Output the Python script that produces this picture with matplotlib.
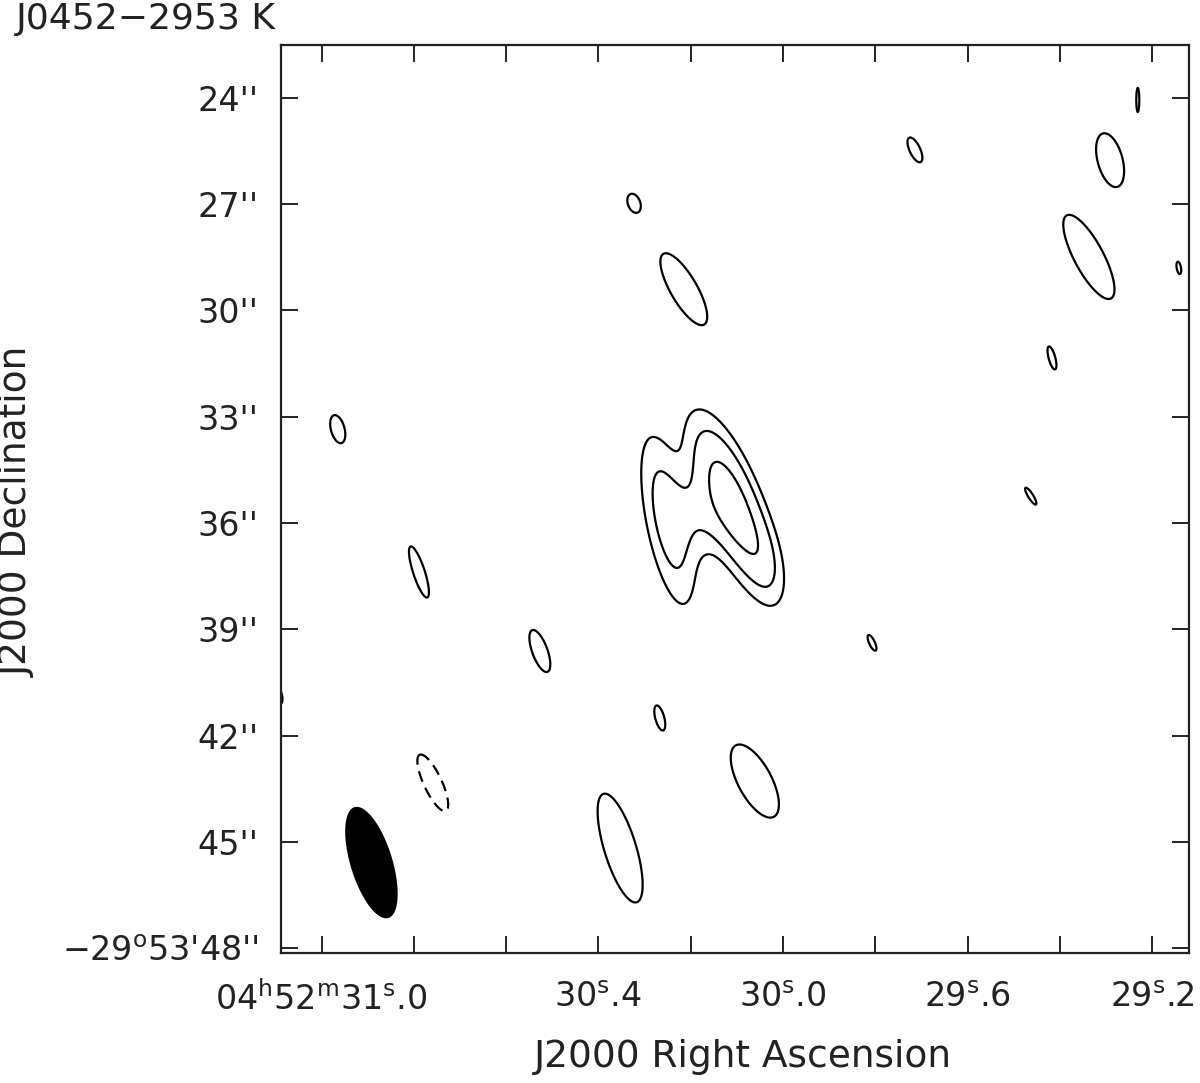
import numpy as np
import matplotlib
matplotlib.use("Agg")
import matplotlib.pyplot as plt

plt.rcParams['font.family'] = ['DejaVu Sans']
plt.rcParams['mathtext.default'] = 'regular'

title = "J0452\u22122953 K"
x_label = "J2000 Right Ascension"
y_label = "J2000 Declination"

# contour levels (arbitrary flux units)
levels_pos = [3, 6, 12]
levels_neg = [-3]

# emission components: RA seconds past 04h52m, Dec arcsec past -29d53',
# peak, FWHM major ("), FWHM minor ("), position angle (deg E of N)
comp_ra   = [29.714, 29.291, 29.337, 29.142, 30.323, 30.215, 29.417, 30.965,
             29.463, 30.789, 30.527, 29.807, 30.267, 30.061, 30.353, 30.759,
             31.094, 29.231,
             30.111, 30.250, 30.186, 30.040]
comp_dec  = [25.47, 25.76, 28.49, 28.80, 26.97, 29.40, 31.34, 33.35,
             35.24, 37.38, 39.61, 39.38, 41.50, 43.28, 45.17, 43.33,
             40.85, 24.06,
             35.45, 35.94, 35.74, 37.05]
comp_peak = [5.5, 5.5, 5.5, 5.5, 5.5, 5.5, 5.5, 5.5,
             5.5, 5.5, 5.5, 5.5, 5.5, 5.5, 5.5, -5.5,
             5.5, 5.5,
             16.5, 8.0, 4.5, 3.0]
comp_maj  = [0.81, 1.67, 2.84, 0.38, 0.57, 2.46, 0.72, 0.87,
             0.60, 1.62, 1.34, 0.52, 0.78, 2.44, 3.42, 1.87,
             0.55, 0.73,
             3.60, 4.00, 2.00, 2.00]
comp_min  = [0.32, 0.75, 0.88, 0.13, 0.36, 0.80, 0.20, 0.41,
             0.15, 0.35, 0.46, 0.17, 0.27, 1.01, 0.96, 0.54,
             0.22, 0.09,
             1.12, 1.00, 1.10, 0.80]
comp_pa   = [25, 15, 28, 10, 20, 30, 15, 15,
             32, 18, 20, 25, 15, 28, 17, 25,
             15, 0,
             21, 11, 15, 15]

# restoring beam
beam_ra, beam_dec = 30.892, 45.58
beam_maj, beam_min, beam_pa = 3.27, 1.18, 17

ra_ticks = [31.0, 30.8, 30.6, 30.4, 30.2, 30.0, 29.8, 29.6, 29.4, 29.2]
ra_labels = [r"04$^{\rm h}$52$^{\rm m}$31$^{\rm s}$.0", "", "",
             r"30$^{\rm s}$.4", "", r"30$^{\rm s}$.0", "",
             r"29$^{\rm s}$.6", "", r"29$^{\rm s}$.2"]
dec_ticks = [24, 27, 30, 33, 36, 39, 42, 45, 48]
dec_labels = ["24''", "27''", "30''", "33''", "36''", "39''", "42''", "45''",
              r"$-$29$^{\rm o}$53'48''"]
ra_lim = (31.088, 29.120)
dec_lim = (48.14, 22.51)

cosd = np.cos(np.deg2rad(29 + 53 / 60 + 36 / 3600))

ra_grid = np.linspace(31.12, 29.10, 1400)
dec_grid = np.linspace(22.3, 48.4, 1350)
RA, DEC = np.meshgrid(ra_grid, dec_grid)
img = np.zeros_like(RA)
for r0, d0, pk, mj, mn, pa in zip(comp_ra, comp_dec, comp_peak, comp_maj, comp_min, comp_pa):
    e = (RA - r0) * 15 * cosd
    n = -(DEC - d0)
    p = np.deg2rad(pa)
    u = e * np.sin(p) + n * np.cos(p)
    v = e * np.cos(p) - n * np.sin(p)
    sa = mj / 2.3548
    sb = mn / 2.3548
    img += pk * np.exp(-0.5 * ((u / sa) ** 2 + (v / sb) ** 2))

fig = plt.figure(figsize=(12, 10.83), dpi=100)
ax = fig.add_axes([281 / 1200, (1083 - 953.3) / 1083, (1189 - 281) / 1200, (953.3 - 45) / 1083])
ax.contour(RA, DEC, img, levels=levels_pos, colors='black', linewidths=1.6)
ax.contour(RA, DEC, img, levels=levels_neg, colors='black', linewidths=1.6,
           linestyles=[(0, (5, 3))])

t = np.linspace(0, 2 * np.pi, 200)
p = np.deg2rad(beam_pa)
bu = beam_maj / 2 * np.cos(t)
bv = beam_min / 2 * np.sin(t)
be = bu * np.sin(p) + bv * np.cos(p)
bn = bu * np.cos(p) - bv * np.sin(p)
ax.fill(beam_ra + be / (15 * cosd), beam_dec - bn, color='black', lw=0)

ax.set_xlim(*ra_lim)
ax.set_ylim(*dec_lim)
ax.set_xticks(ra_ticks)
ax.set_xticklabels(ra_labels)
ax.set_yticks(dec_ticks)
ax.set_yticklabels(dec_labels)
ax.tick_params(direction='in', length=12, width=1.4, top=True, right=True,
               labelsize=24, colors='#222222')
ax.tick_params(axis='x', pad=20)
ax.tick_params(axis='y', pad=16)
for s in ax.spines.values():
    s.set_linewidth(1.6)
    s.set_color('#222222')

fig.text(743 / 1200, 1 - 1057 / 1083, x_label, ha='center', va='center', fontsize=27, color='#222222')
fig.text(18 / 1200, 1 - 512 / 1083, y_label, ha='center', va='center', rotation=90, fontsize=27, color='#222222')
fig.text(16 / 1200, 1 - 19 / 1083, title, ha='left', va='center', fontsize=26, color='#222222')

fig.savefig("out.png", dpi=100)
